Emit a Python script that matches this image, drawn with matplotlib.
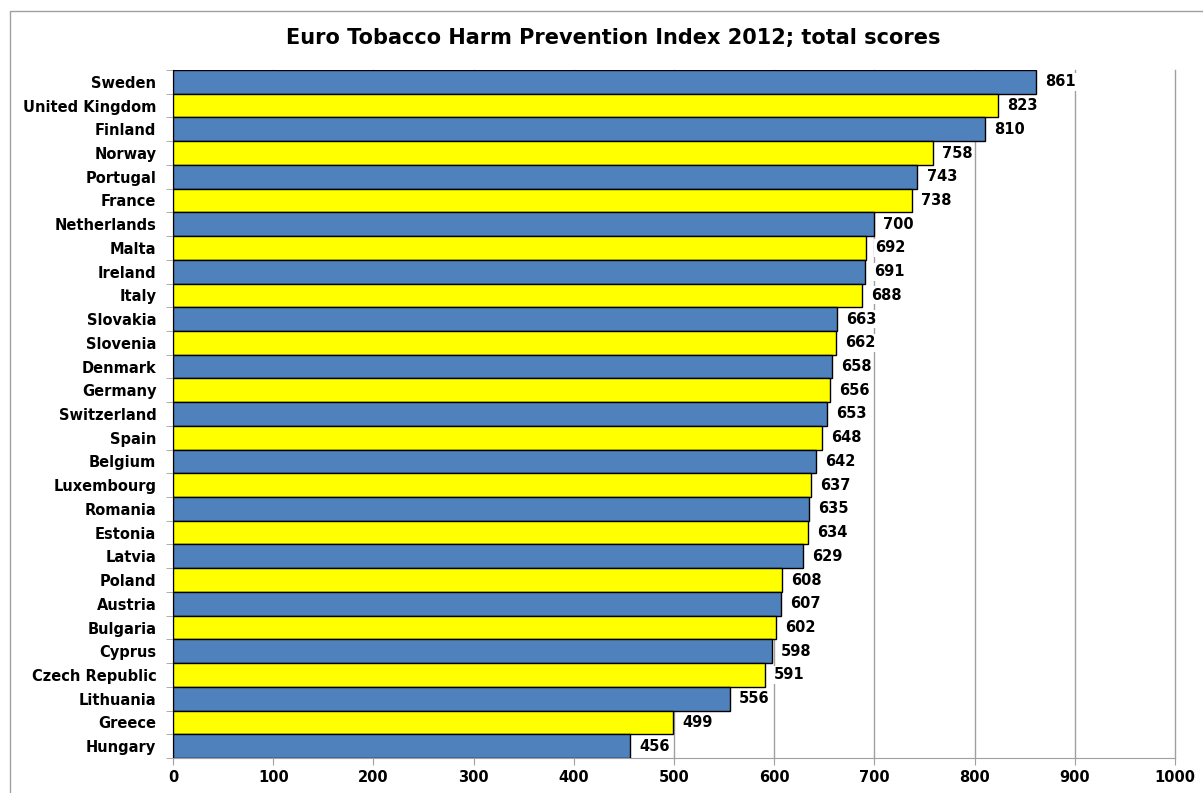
import numpy as np
import matplotlib
matplotlib.use("Agg")
import matplotlib.pyplot as plt
from matplotlib.patches import Rectangle

countries = ["Sweden", "United Kingdom", "Finland", "Norway", "Portugal", "France",
             "Netherlands", "Malta", "Ireland", "Italy", "Slovakia", "Slovenia",
             "Denmark", "Germany", "Switzerland", "Spain", "Belgium", "Luxembourg",
             "Romania", "Estonia", "Latvia", "Poland", "Austria", "Bulgaria",
             "Cyprus", "Czech Republic", "Lithuania", "Greece", "Hungary"]
scores = [861, 823, 810, 758, 743, 738, 700, 692, 691, 688, 663, 662, 658, 656,
          653, 648, 642, 637, 635, 634, 629, 608, 607, 602, 598, 591, 556, 499, 456]

blue = "#4F81BD"
yellow = "#FFFF00"
grey = "#A0A0A0"

fig = plt.figure(figsize=(12.03, 7.93), dpi=100)
ax = fig.add_axes([173 / 1203, 1 - 758 / 793, 1002 / 1203, 688 / 793])

y = np.arange(len(countries))
colors = [blue if i % 2 == 0 else yellow for i in range(len(countries))]
ax.barh(y, scores, height=1.0, color=colors, edgecolor="black", linewidth=1, zorder=3)

# score labels to the right of each bar
for yi, v in zip(y, scores):
    ax.text(v + 9, yi, str(v), va="center", ha="left", fontsize=10.5,
            fontweight="bold", zorder=4,
            bbox=dict(facecolor="white", edgecolor="none", pad=1))

ax.set_xlim(0, 1000)
ax.set_ylim(len(countries) - 0.5, -0.5)
ax.set_xticks(np.arange(0, 1001, 100))
ax.set_yticks(y)
ax.set_yticklabels(countries, fontsize=10.5, fontweight="bold")
ax.tick_params(axis="y", length=0, pad=12)
ax.set_yticks(np.arange(-0.5, len(countries), 1), minor=True)
ax.tick_params(axis="y", which="minor", length=5, color=grey)
ax.tick_params(axis="x", length=5, color=grey, labelsize=10.5, pad=4)
for lab in ax.get_xticklabels():
    lab.set_fontweight("bold")

ax.grid(axis="x", color=grey, linewidth=1, zorder=0)
for gl in ax.get_xgridlines():
    gl.set_clip_on(False)
for s in ["top", "right"]:
    ax.spines[s].set_visible(False)
for s in ["left", "bottom"]:
    ax.spines[s].set_color(grey)

fig.text(0.51, 1 - 38 / 793, "Euro Tobacco Harm Prevention Index 2012; total scores",
         ha="center", va="center", fontsize=15, fontweight="bold")

fig.patches.append(Rectangle((10 / 1203, -0.05), 1.2, 1 - 11 / 793 + 0.05,
                             transform=fig.transFigure, fill=False,
                             edgecolor=grey, linewidth=1))

fig.savefig("out.png", dpi=100)
